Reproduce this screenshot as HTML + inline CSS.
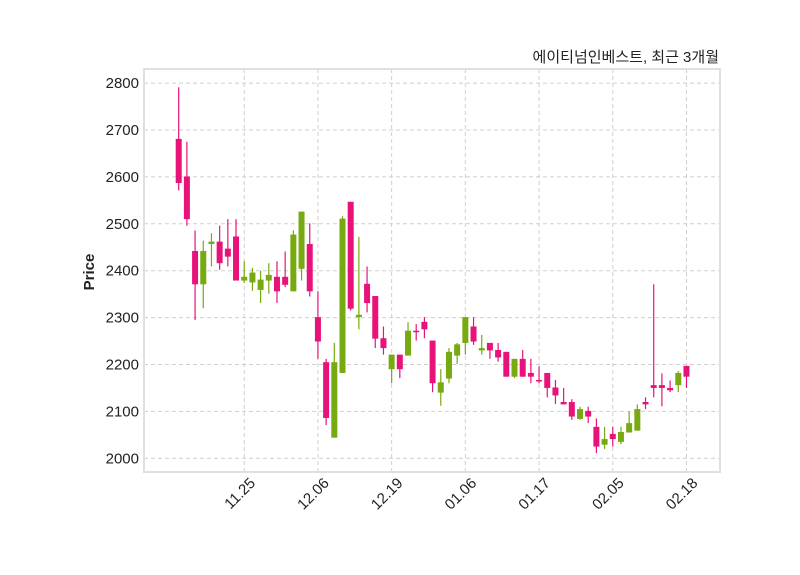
<!DOCTYPE html>
<html><head><meta charset="utf-8"><style>
html,body{margin:0;padding:0;background:#fff;}
svg{display:block;font-family:"Liberation Sans","Noto Sans CJK KR",sans-serif;}
</style></head><body>
<svg id="chart" width="800" height="575">
<rect x="0" y="0" width="800" height="575" fill="#fff"/>
<text x="719" y="62" text-anchor="end" font-size="15" fill="#222" font-family="'Liberation Sans','Noto Sans CJK KR',sans-serif">에이티넘인베스트, 최근 3개월</text>
<text transform="translate(94,272) rotate(-90)" text-anchor="middle" font-size="15" font-weight="bold" fill="#222">Price</text>
<g id="grid"></g>
<g id="yticks"></g>
<g id="xticks"></g>
<g id="candles"></g>
<rect x="144" y="69" width="576" height="403" fill="none" stroke="#e0e0e0" stroke-width="2"/>
</svg>
<script>
const opens  = [2681,2601,2442,2371,2457,2462,2447,2473,2379,2375,2359,2379,2387,2387,2356,2404,2457,2301,2205,2044,2182,2547,2301,2372,2346,2256,2190,2221,2219,2272,2291,2251,2140,2170,2219,2246,2281,2230,2246,2231,2227,2174,2212,2182,2167,2182,2151,2120,2120,2084,2101,2067,2029,2052,2035,2055,2059,2120,2156,2156,2150,2156,2197];
const closes = [2587,2510,2371,2442,2462,2416,2430,2379,2387,2396,2381,2391,2356,2370,2477,2526,2356,2249,2086,2205,2511,2319,2306,2331,2255,2235,2221,2190,2272,2270,2275,2160,2162,2227,2243,2301,2249,2235,2230,2215,2174,2212,2174,2174,2166,2150,2134,2115,2089,2105,2089,2025,2041,2041,2056,2075,2105,2115,2150,2150,2145,2182,2174];
const highs  = [2791,2675,2486,2464,2480,2496,2510,2510,2420,2406,2400,2416,2420,2441,2486,2526,2501,2356,2212,2246,2516,2547,2472,2409,2346,2281,2221,2221,2290,2286,2301,2251,2190,2235,2246,2301,2301,2263,2246,2246,2227,2212,2231,2212,2196,2182,2167,2150,2126,2110,2110,2085,2067,2067,2067,2100,2115,2130,2371,2181,2166,2186,2197];
const lows   = [2571,2496,2295,2320,2409,2402,2409,2409,2374,2357,2331,2351,2331,2365,2356,2379,2345,2212,2071,2044,2182,2315,2275,2311,2235,2221,2160,2171,2219,2251,2256,2141,2112,2160,2201,2221,2242,2221,2212,2206,2174,2171,2174,2160,2160,2130,2116,2115,2082,2082,2075,2011,2020,2025,2030,2055,2059,2105,2130,2111,2141,2141,2150];
const yTicks = [2000,2100,2200,2300,2400,2500,2600,2700,2800];
const xTickIdx = [8,17,26,35,44,53,62];
const xTickLabels = ["11.25","12.06","12.19","01.06","01.17","02.05","02.18"];

const NS="http://www.w3.org/2000/svg";
function xs(i){return 178.7+i*8.19;}
function ys(v){return 458.3-(v-2000)*0.469;}
function mk(tag,attrs,parent){const e=document.createElementNS(NS,tag);for(const k in attrs)e.setAttribute(k,attrs[k]);parent.appendChild(e);return e;}
const grid=document.getElementById('grid'),yt=document.getElementById('yticks'),xt=document.getElementById('xticks'),cg=document.getElementById('candles');
yTicks.forEach(v=>{
  const l=mk('line',{x1:144,x2:720,y1:ys(v),y2:ys(v),stroke:'#cfcfcf','stroke-dasharray':'4,3','stroke-width':1},grid);
  
  
  const t=mk('text',{x:139,y:ys(v)+5,'text-anchor':'end','font-size':15,fill:'#222'},yt);
  t.textContent=v;
  
  
});
xTickIdx.forEach((i,k)=>{
  const x=xs(i);
  const l=mk('line',{x1:x,x2:x,y1:69,y2:472,stroke:'#cfcfcf','stroke-dasharray':'4,3','stroke-width':1},grid);
  
  
  const t=mk('text',{x:x+12,y:484,'text-anchor':'end','font-size':15,fill:'#222',transform:`rotate(-45 ${x+12} 484)`},xt);
  t.textContent=xTickLabels[k];
  
  
});
for(let i=0;i<opens.length;i++){
  const up=closes[i]>=opens[i];
  const col=up?'#77aa11':'#e8137a';
  const x=xs(i);
  const g=mk('g',{},cg);
  
  
  mk('line',{x1:x,x2:x,y1:ys(highs[i]),y2:ys(lows[i]),stroke:col,'stroke-width':1.2},g);
  const top=ys(Math.max(opens[i],closes[i])),bot=ys(Math.min(opens[i],closes[i]));
  mk('rect',{x:x-3,y:top,width:6,height:Math.max(bot-top,1.5),fill:col},g);
}
</script>
</body></html>
